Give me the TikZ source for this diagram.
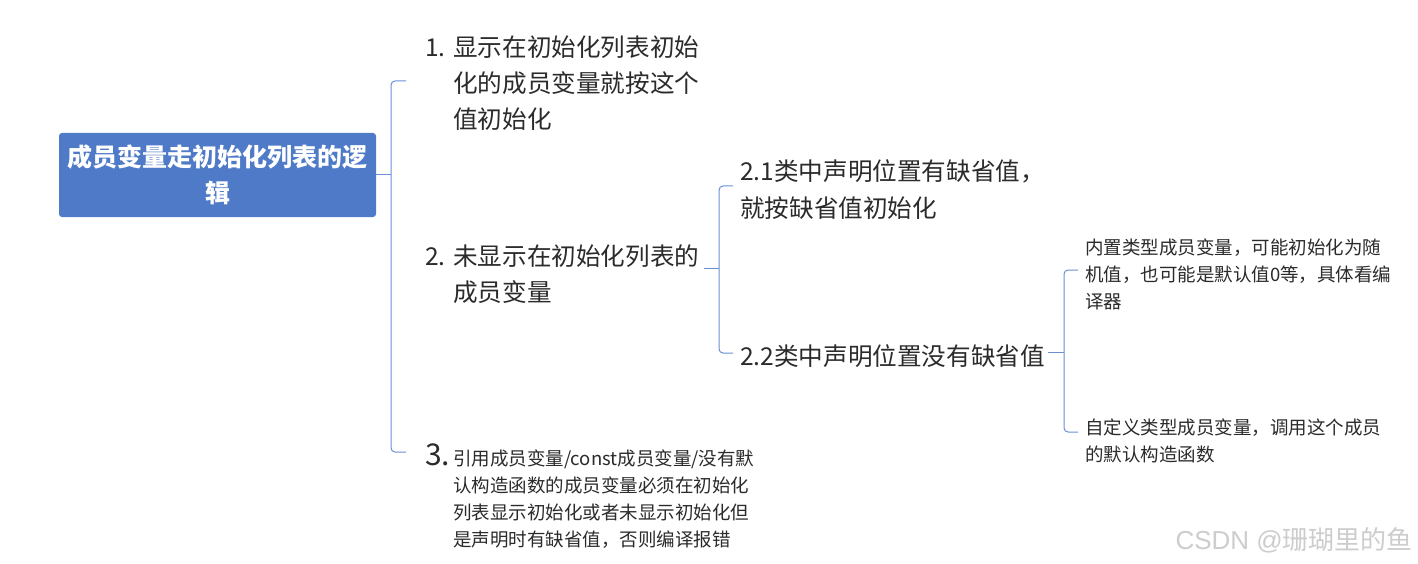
\documentclass[tikz,border=0pt]{standalone}
\usepackage{fontspec}
\setmainfont{Noto Sans CJK SC}
\newfontfamily\wmlatin{Liberation Sans}
\definecolor{rootfill}{HTML}{4F7AC7}
\definecolor{lnk}{HTML}{6A8FD6}
\definecolor{txt}{HTML}{2B2B2B}
\definecolor{wm}{HTML}{CDCDCD}
\begin{document}
\begin{tikzpicture}[x=1pt,y=-1pt,
  lbl/.style={anchor=base west, inner sep=0pt, text=txt},
  big/.style={font=\fontsize{24.6}{36}\selectfont},
  small/.style={font=\fontsize{18.5}{27}\selectfont},
  conn/.style={draw=lnk, line width=1pt, rounded corners=4pt},
  rootbox/.style={fill=rootfill, rounded corners=3pt, minimum width=317pt, minimum height=84pt,
    text=white, align=center, inner sep=0pt, font=\fontsize{25}{36}\selectfont\bfseries}]
\useasboundingbox (0,0) rectangle (1418,564);
\fill[white] (0,0) rectangle (1418,564);

% root
\node[rootbox] (root) at (217.5,175) {成员变量走初始化列表的逻\\辑};

% level 1
\node[lbl,big] (n1) at (425,57) {\begin{tabular}[t]{@{}p{28pt}@{}l@{}}1. & 显示在初始化列表初始\\ & 化的成员变量就按这个\\ & 值初始化\end{tabular}};
\node[lbl,big] (n2) at (425,265) {\begin{tabular}[t]{@{}p{28pt}@{}l@{}}2. & 未显示在初始化列表的\\ & 成员变量\end{tabular}};
\node[lbl,small] (n3) at (425,465) {\begin{tabular}[t]{@{}p{28pt}@{}l@{}}{\fontsize{30}{27}\selectfont 3.} & 引用成员变量/const成员变量/没有默\\ & 认构造函数的成员变量必须在初始化\\ & 列表显示初始化或者未显示初始化但\\ & 是声明时有缺省值，否则编译报错\end{tabular}};

% level 2
\node[lbl,big] (n21) at (740,181) {\begin{tabular}[t]{@{}l@{}}2.1类中声明位置有缺省值，\\就按缺省值初始化\end{tabular}};
\node[lbl,big] (n22) at (740,365) {2.2类中声明位置没有缺省值};

% level 3
\node[lbl,small] (n221) at (1085,254) {\begin{tabular}[t]{@{}l@{}}内置类型成员变量，可能初始化为随\\机值，也可能是默认值0等，具体看编\\译器\end{tabular}};
\node[lbl,small] (n222) at (1085,434) {\begin{tabular}[t]{@{}l@{}}自定义类型成员变量，调用这个成员\\的默认构造函数\end{tabular}};

% connectors
\coordinate (b1t) at (406,81);
\coordinate (b1b) at (406,452);
\draw[conn] (root.east) -- (391,175);
\draw[conn] (b1t) -- (391,81) -- (391,452) -- (b1b);

\coordinate (b2j) at (704,268);
\coordinate (b2t) at (733,186);
\coordinate (b2b) at (733,353);
\draw[conn] (b2j) -- (719,268);
\draw[conn] (b2t) -- (719,186) -- (719,353) -- (b2b);

\coordinate (b3j) at (1048,352);
\coordinate (b3t) at (1078,270);
\coordinate (b3b) at (1078,432);
\draw[conn] (b3j) -- (1064,352);
\draw[conn] (b3t) -- (1064,270) -- (1064,432) -- (b3b);

% watermark
\node[anchor=base east, inner sep=0pt, text=wm, font=\fontsize{26}{30}\selectfont] (wmk) at (1413,549) {{\wmlatin CSDN @}珊瑚里的鱼};
\end{tikzpicture}
\end{document}
